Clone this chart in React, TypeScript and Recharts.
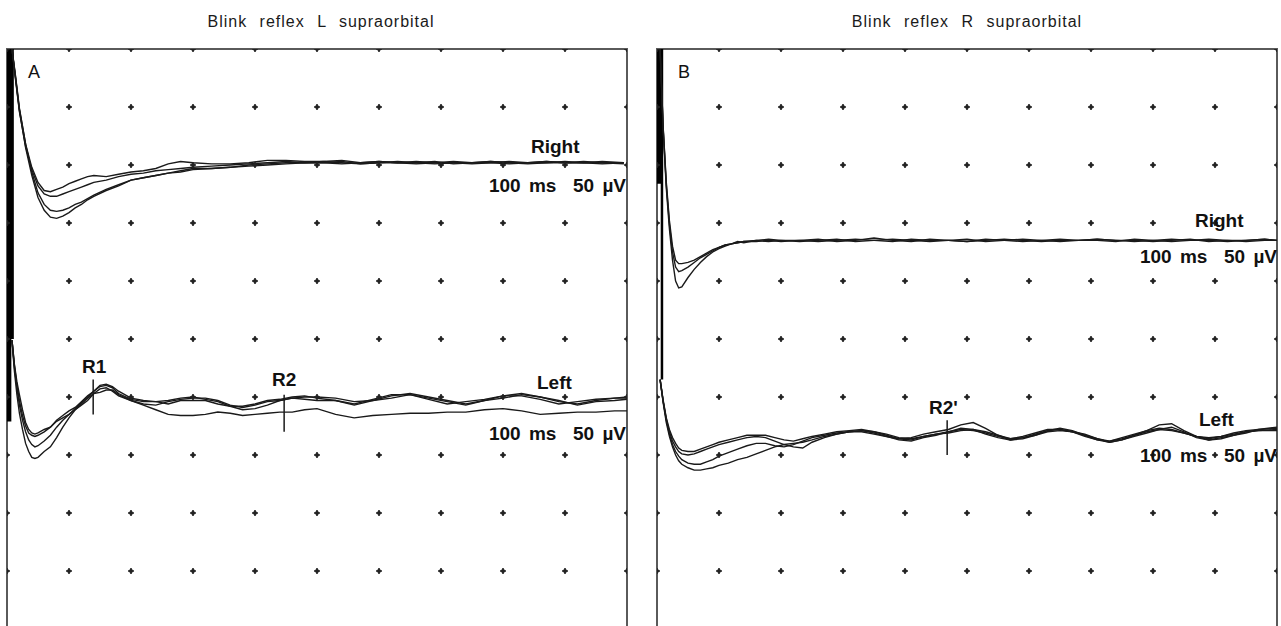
import { Line, LineChart, ReferenceArea, ReferenceLine, XAxis, YAxis } from 'recharts';

// 10 ms and 50 µV per division, 10 x 10 divisions per panel
const GRID_T = [0, 10, 20, 30, 40, 50, 60, 70, 80, 90, 100];
const GRID_V = [50, 100, 150, 200, 250, 300, 350, 400, 450, 500];

// Panel A, stimulus artifact
const ART_A_T = [0.2, 0.2, 0.5, 0.5, 0.9, 0.9];
const ART_A_V = [500, 180, 180, 500, 500, 250];

// Panel A, right channel
const RA_T = [0.8, 1.3, 2, 3, 4, 5, 6, 7, 8, 9, 10, 11, 12, 13, 14, 16, 18, 20, 22, 24, 26, 28, 30,
  33, 36, 39, 42, 45, 48, 51, 54, 57, 60, 63, 66, 69, 72, 75, 78, 81, 84, 87, 90, 93, 96, 99.5];
const RA_1 = [500, 478, 447, 415, 391, 372, 361, 355, 354, 356, 359, 363, 366, 370, 373, 378, 382, 387, 389, 391, 393, 395, 397,
  397, 398, 399, 400, 401, 402, 402, 401, 402, 403, 402, 401, 402, 403, 402, 402, 401, 402, 403, 402, 402, 401, 402];
const RA_2 = [500, 480, 449, 418, 394, 376, 366, 361, 360, 361, 363, 366, 368, 371, 374, 379, 383, 387, 389, 391, 393, 394, 396,
  397, 398, 400, 401, 402, 402, 403, 402, 401, 402, 403, 402, 401, 402, 402, 403, 402, 401, 402, 402, 403, 402, 401];
const RA_3 = [500, 477, 446, 416, 396, 382, 375, 373, 373, 375, 377, 379, 381, 383, 385, 387, 390, 392, 393, 395, 396, 397, 398,
  399, 400, 401, 402, 403, 402, 402, 403, 401, 402, 402, 403, 402, 402, 401, 402, 403, 402, 402, 403, 402, 402, 402];
const RA_4 = [500, 479, 448, 418, 398, 385, 378, 377, 379, 381, 384, 386, 388, 390, 391, 390, 392, 394, 395, 397, 401, 403, 402,
  401, 401, 402, 404, 404, 403, 403, 404, 402, 403, 402, 402, 403, 401, 402, 403, 402, 402, 403, 402, 402, 403, 402];

// Panel A, left channel
const LA_T = [0.8, 1.2, 1.6, 2, 2.5, 3, 3.5, 4, 4.5, 5, 6, 7, 8, 9, 10, 11, 12, 13, 14, 15, 16, 17, 18, 20, 22,
  24, 26, 28, 30, 32, 34, 36, 38, 40, 42, 44, 46, 48, 50, 53, 56, 59, 62, 65, 68, 71, 74, 77, 80, 83, 86, 89, 92, 95, 98, 100];
const LA_1 = [249, 228, 213, 202, 189, 178, 172, 169, 168, 169, 172, 174, 179, 182, 185, 189, 193, 197, 203, 207, 208, 205, 201, 197, 194,
  193, 196, 198, 199, 199, 197, 193, 191, 193, 196, 197, 199, 200, 200, 199, 196, 197, 201, 203, 200, 197, 194, 197, 201, 203, 200, 196, 194, 197, 199, 200];
const LA_2 = [249, 227, 210, 197, 184, 175, 169, 167, 166, 167, 170, 174, 180, 184, 188, 191, 196, 201, 205, 210, 211, 209, 205, 199, 197,
  196, 194, 197, 197, 197, 194, 192, 192, 194, 197, 198, 200, 201, 199, 197, 194, 198, 202, 202, 198, 194, 196, 198, 201, 201, 198, 194, 196, 198, 199, 199];
const LA_3 = [249, 225, 208, 193, 180, 170, 163, 159, 157, 158, 162, 167, 174, 180, 185, 190, 195, 200, 205, 209, 210, 208, 203, 198, 196,
  196, 197, 199, 200, 198, 196, 192, 189, 190, 193, 197, 199, 198, 197, 197, 193, 197, 199, 202, 199, 196, 193, 197, 199, 202, 200, 197, 193, 196, 197, 198];
const LA_4 = [249, 222, 202, 186, 172, 160, 153, 148, 147, 148, 153, 157, 165, 174, 182, 189, 194, 199, 203, 204, 206, 206, 202, 197, 193,
  189, 185, 184, 184, 185, 187, 186, 184, 185, 186, 187, 187, 189, 190, 185, 182, 184, 185, 186, 186, 187, 187, 189, 190, 188, 185, 186, 187, 187, 188, 188];

// Panel B, stimulus artifact
const ART_B_T = [0.2, 0.2, 0.5, 0.5, 0.8, 0.8];
const ART_B_V = [500, 385, 385, 500, 500, 215];

// Panel B, right channel
const RB_T = [0.5, 1, 1.5, 2, 2.5, 3, 3.5, 4, 5, 6, 7, 8, 9, 10, 11, 12, 13, 14, 16, 18, 20,
  23, 26, 29, 32, 35, 38, 41, 44, 47, 50, 53, 56, 59, 62, 65, 68, 71, 74, 77, 80, 83, 86, 89, 92, 95, 98, 100];
const RB_1 = [500, 430, 380, 345, 318, 300, 294, 295, 303, 310, 316, 321, 325, 328, 330, 332, 333, 334, 334, 335, 334,
  335, 336, 334, 335, 337, 335, 334, 336, 335, 334, 335, 336, 335, 334, 335, 335, 336, 335, 334, 335, 336, 335, 335, 334, 335, 336, 335];
const RB_2 = [500, 432, 385, 352, 330, 318, 315, 315, 316, 318, 321, 324, 327, 329, 331, 332, 333, 334, 335, 334, 335,
  334, 335, 336, 334, 335, 336, 335, 334, 335, 336, 334, 335, 336, 335, 334, 335, 336, 335, 335, 334, 335, 336, 334, 335, 335, 336, 335];
const RB_3 = [500, 431, 383, 349, 325, 312, 308, 309, 312, 316, 320, 323, 326, 329, 331, 332, 334, 333, 335, 336, 335,
  335, 334, 335, 336, 335, 334, 336, 335, 335, 334, 336, 335, 334, 335, 336, 335, 335, 334, 336, 335, 334, 335, 336, 335, 334, 335, 335];

// Panel B, left channel
const LB_T = [0.5, 1, 1.5, 2, 2.5, 3, 3.5, 4, 5, 6, 7, 8, 9, 10, 11.5, 13, 14.5, 16, 17.5, 19, 20.5, 22, 23.5, 25, 27, 29, 31,
  33, 35, 37, 39, 41, 43, 45, 47, 49, 51, 53, 55, 57, 59, 61, 63, 65, 67, 69, 71, 73, 75, 77, 79, 81, 83, 85, 87, 89, 91, 93, 95, 97, 100];
const LB_1 = [215, 195, 178, 166, 157, 150, 145, 142, 139, 137, 137, 138, 139, 141, 143, 146, 148, 151, 154, 157, 159, 160, 161, 163, 166, 168, 170,
  171, 170, 168, 165, 164, 166, 168, 169, 171, 172, 170, 167, 164, 165, 167, 170, 171, 170, 168, 164, 162, 164, 167, 170, 172, 171, 169, 166, 165, 166, 168, 170, 171, 172];
const LB_2 = [215, 196, 180, 168, 159, 153, 149, 146, 143, 142, 142, 144, 146, 149, 152, 155, 158, 160, 160, 158, 157, 159, 162, 165, 167, 169, 170,
  170, 168, 166, 164, 165, 168, 170, 172, 176, 178, 173, 167, 163, 164, 167, 171, 172, 170, 167, 163, 161, 163, 167, 171, 176, 177, 171, 166, 163, 165, 167, 169, 172, 174];
const LB_3 = [215, 197, 182, 172, 165, 160, 156, 154, 153, 153, 155, 157, 159, 161, 163, 165, 167, 167, 167, 165, 163, 162, 164, 166, 168, 170, 171,
  172, 170, 167, 164, 163, 166, 168, 170, 172, 171, 169, 166, 164, 166, 169, 172, 172, 170, 166, 163, 162, 165, 168, 171, 173, 172, 169, 166, 164, 166, 169, 171, 172, 173];
const LB_4 = [215, 196, 181, 170, 162, 157, 153, 151, 150, 151, 153, 155, 157, 159, 161, 163, 165, 166, 165, 162, 159, 157, 156, 161, 165, 168, 170,
  171, 169, 166, 163, 162, 165, 167, 170, 173, 172, 168, 165, 163, 165, 168, 171, 173, 171, 167, 164, 161, 163, 166, 169, 172, 174, 170, 165, 163, 164, 167, 170, 171, 171];

// latency cursors
const MARKERS_A = [
  { name: 'R1', t: 13.9, from: 185, to: 215 },
  { name: 'R2', t: 44.7, from: 170, to: 202 },
];
const MARKERS_B = [{ name: "R2'", t: 46.8, from: 150, to: 180 }];

const TRACE = '#1a1a1a';
const FRAME = '#5a5a5a';

const pts = (ts: number[], vs: number[]) => ts.map((t, i) => ({ t, v: vs[i] }));
const GRID_POINTS = GRID_T.flatMap((t) => GRID_V.map((v) => ({ t, v })));

function GridDot(props: any) {
  const { cx, cy, index } = props;
  if (cx == null || cy == null) return <g key={index} />;
  return (
    <g key={index}>
      <path d={`M${cx - 3},${cy}H${cx + 3}M${cx},${cy - 3}V${cy + 3}`} stroke="#222" strokeWidth={1.6} />
      <circle cx={cx} cy={cy} r={2} fill="#222" />
    </g>
  );
}

interface PanelProps {
  artifact: { t: number; v: number }[];
  right: { t: number; v: number }[][];
  left: { t: number; v: number }[][];
  markers: { name: string; t: number; from: number; to: number }[];
}

function Panel({ artifact, right, left, markers }: PanelProps) {
  return (
    <LineChart width={640} height={640} margin={{ top: 49, right: 13, bottom: 11, left: 7 }}>
      <XAxis type="number" dataKey="t" domain={[0, 100]} hide allowDataOverflow />
      <YAxis type="number" domain={[0, 500]} hide allowDataOverflow />
      <ReferenceArea x1={0} x2={100} y1={0} y2={500} fill="none" stroke={FRAME} strokeWidth={2} ifOverflow="visible" />
      <Line data={GRID_POINTS} dataKey="v" stroke="none" dot={GridDot} activeDot={false} isAnimationActive={false} />
      <Line data={artifact} dataKey="v" stroke="#000" strokeWidth={2.5} dot={false} isAnimationActive={false} />
      {right.map((d, i) => (
        <Line key={`r${i}`} data={d} dataKey="v" stroke={TRACE} strokeWidth={1.4} dot={false} isAnimationActive={false} />
      ))}
      {left.map((d, i) => (
        <Line key={`l${i}`} data={d} dataKey="v" stroke={TRACE} strokeWidth={1.4} dot={false} isAnimationActive={false} />
      ))}
      {markers.map((m) => (
        <ReferenceLine
          key={m.name}
          segment={[{ x: m.t, y: m.from }, { x: m.t, y: m.to }]}
          stroke={TRACE}
          strokeWidth={1.5}
          ifOverflow="visible"
        />
      ))}
    </LineChart>
  );
}

const label = (style: React.CSSProperties, text: string, bold = true) => (
  <div
    style={{
      position: 'absolute',
      fontSize: 19,
      lineHeight: '19px',
      fontWeight: bold ? 'bold' : 'normal',
      color: '#111',
      whiteSpace: 'pre',
      ...style,
    }}
  >
    {text}
  </div>
);

const scaleStyle: React.CSSProperties = { wordSpacing: 3 };

const titleStyle: React.CSSProperties = {
  position: 'absolute',
  width: 400,
  top: 13,
  textAlign: 'center',
  fontSize: 16,
  letterSpacing: 1,
  wordSpacing: 7,
  color: '#1a1a1a',
};

export default function App() {
  return (
    <div
      style={{
        position: 'fixed',
        left: 0,
        top: 0,
        width: 1281,
        height: 626,
        overflow: 'hidden',
        background: '#fff',
        fontFamily: '"Liberation Sans", Arial, sans-serif',
      }}
    >
      <div style={{ position: 'absolute', left: 0, top: 0 }}>
        <Panel
          artifact={pts(ART_A_T, ART_A_V)}
          right={[pts(RA_T, RA_1), pts(RA_T, RA_2), pts(RA_T, RA_3), pts(RA_T, RA_4)]}
          left={[pts(LA_T, LA_1), pts(LA_T, LA_2), pts(LA_T, LA_3), pts(LA_T, LA_4)]}
          markers={MARKERS_A}
        />
      </div>
      <div style={{ position: 'absolute', left: 650, top: 0 }}>
        <Panel
          artifact={pts(ART_B_T, ART_B_V)}
          right={[pts(RB_T, RB_1), pts(RB_T, RB_2), pts(RB_T, RB_3)]}
          left={[pts(LB_T, LB_1), pts(LB_T, LB_2), pts(LB_T, LB_3), pts(LB_T, LB_4)]}
          markers={MARKERS_B}
        />
      </div>

      <div style={{ ...titleStyle, left: 121 }}>Blink reflex L supraorbital</div>
      <div style={{ ...titleStyle, left: 767 }}>Blink reflex R supraorbital</div>

      {label({ left: 28, top: 63, fontSize: 18, lineHeight: '18px' }, 'A', false)}
      {label({ left: 678, top: 63, fontSize: 18, lineHeight: '18px' }, 'B', false)}

      {label({ left: 531, top: 137 }, 'Right')}
      {label({ ...scaleStyle, right: 655, top: 176 }, '100 ms  50 µV')}
      {label({ left: 537, top: 373 }, 'Left')}
      {label({ ...scaleStyle, right: 655, top: 424 }, '100 ms  50 µV')}
      {label({ left: 82, top: 357 }, 'R1')}
      {label({ left: 272, top: 370 }, 'R2')}

      {label({ left: 1195, top: 211 }, 'Right')}
      {label({ ...scaleStyle, right: 4, top: 247 }, '100 ms  50 µV')}
      {label({ left: 1199, top: 410 }, 'Left')}
      {label({ ...scaleStyle, right: 4, top: 446 }, '100 ms  50 µV')}
      {label({ left: 929, top: 398 }, "R2'")}
    </div>
  );
}
